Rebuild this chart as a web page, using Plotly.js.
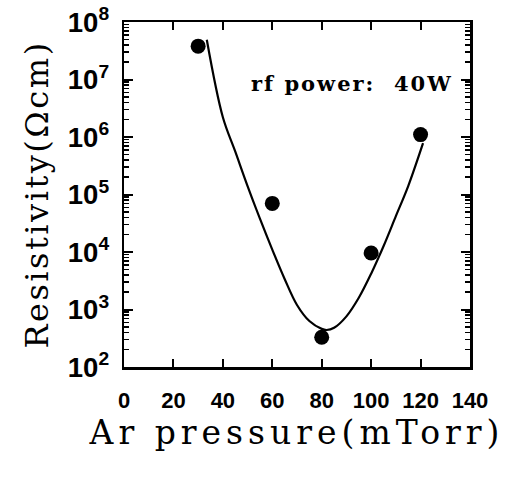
<!DOCTYPE html>
<html>
<head>
<meta charset="utf-8">
<script src="https://cdn.plot.ly/plotly-3.0.1.min.js"></script>
<style>
html,body{margin:0;padding:0;background:#fff;}
#chart{width:527px;height:477px;}
#chart .xtitle{letter-spacing:5px;}
#chart .ytitle{letter-spacing:2.5px;}
#chart .annotation-text{letter-spacing:2px;}
</style>
</head>
<body>
<div id="chart"></div>
<script>
// Measured data points
const pressure = [30, 60, 80, 100, 120];
const resistivity = [3.8e7, 7.0e4, 3.3e2, 9.6e3, 1.1e6];
// Fitted curve
const fitPressure = [33.5, 40, 45, 50, 55, 60, 65, 70, 75, 80, 82, 85, 90, 95, 100, 105, 110, 115, 121];
const fitResistivity = [4.9e7, 2.2e6, 5.6e5, 1.4e5, 3.8e4, 1.1e4, 3.4e3, 1.2e3, 6.3e2, 4.6e2, 4.4e2, 4.8e2, 7.6e2, 1.6e3, 4.2e3, 1.26e4, 4.2e4, 1.4e5, 7.8e5];
const xTicks = [0, 20, 40, 60, 80, 100, 120, 140];
const annotationText = "rf\u00a0power:\u00a0\u00a040W";

const sans = "Liberation Sans, Arial, sans-serif";
const serif = "DejaVu Serif, serif";

const traces = [
  {
    x: fitPressure, y: fitResistivity, type: 'scatter', mode: 'lines',
    line: {color: '#000', width: 2.2, shape: 'spline', smoothing: 1},
    hoverinfo: 'skip', showlegend: false
  },
  {
    x: pressure, y: resistivity, type: 'scatter', mode: 'markers',
    marker: {color: '#000', size: 15, line: {width: 0}},
    showlegend: false
  }
];

const layout = {
  width: 527, height: 477,
  margin: {l: 124, r: 57, t: 22, b: 110},
  paper_bgcolor: '#fff', plot_bgcolor: '#fff',
  showlegend: false,
  xaxis: {
    range: [0, 140], tickmode: 'array', tickvals: xTicks, ticktext: xTicks.map(String),
    showgrid: false, zeroline: false,
    showline: true, linecolor: '#000', linewidth: 2.5, mirror: 'ticks',
    ticks: 'inside', ticklen: 8, tickwidth: 2, tickcolor: '#000',
    ticklabelstandoff: 12,
    tickfont: {family: sans, size: 22, color: '#000', weight: 'bold'},
    title: {text: 'Ar pressure(mTorr)', standoff: 8,
            font: {family: serif, size: 33, color: '#000'}}
  },
  yaxis: {
    type: 'log', range: [2, 8], dtick: 1, exponentformat: 'power',
    showgrid: false, zeroline: false,
    showline: true, linecolor: '#000', linewidth: 2.5, mirror: 'ticks',
    ticks: 'inside', ticklen: 9, tickwidth: 2, tickcolor: '#000',
    minor: {ticks: 'inside', ticklen: 5, tickwidth: 1.5, tickcolor: '#000', dtick: 'D1', showgrid: false},
    ticklabelstandoff: 8,
    tickfont: {family: sans, size: 22, color: '#000', weight: 'bold'},
    title: {text: 'Resistivity(Ωcm)', standoff: 10,
            font: {family: serif, size: 32, color: '#000'}}
  },
  annotations: [{
    xref: 'paper', yref: 'paper', x: 0.66, y: 0.865,
    text: annotationText, showarrow: false,
    font: {family: serif, size: 21, color: '#000', weight: 'bold'}
  }]
};

Plotly.newPlot('chart', traces, layout, {staticPlot: true, displayModeBar: false});
</script>
</body>
</html>
